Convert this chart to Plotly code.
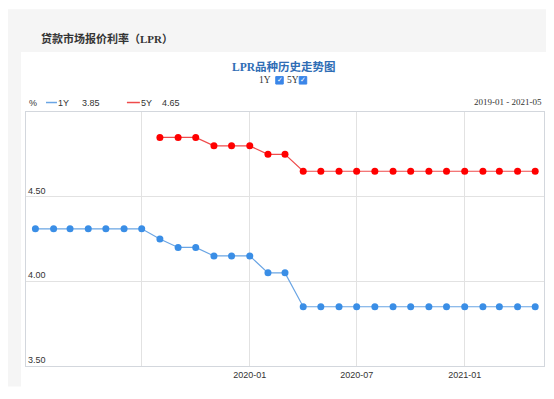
import plotly.graph_objects as go

# ---- data ----
months_1y = ["2019-01", "2019-02", "2019-03", "2019-04", "2019-05", "2019-06", "2019-07",
             "2019-08", "2019-09", "2019-10", "2019-11", "2019-12", "2020-01", "2020-02",
             "2020-03", "2020-04", "2020-05", "2020-06", "2020-07", "2020-08", "2020-09",
             "2020-10", "2020-11", "2020-12", "2021-01", "2021-02", "2021-03", "2021-04",
             "2021-05"]
rate_1y = [4.31, 4.31, 4.31, 4.31, 4.31, 4.31, 4.31,
           4.25, 4.20, 4.20, 4.15, 4.15, 4.15, 4.05,
           4.05, 3.85, 3.85, 3.85, 3.85, 3.85, 3.85,
           3.85, 3.85, 3.85, 3.85, 3.85, 3.85, 3.85,
           3.85]
months_5y = months_1y[7:]
rate_5y = [4.85, 4.85, 4.85, 4.80, 4.80, 4.80, 4.75,
           4.75, 4.65, 4.65, 4.65, 4.65, 4.65, 4.65,
           4.65, 4.65, 4.65, 4.65, 4.65, 4.65, 4.65,
           4.65]
x_tick_vals = ["2019-07-01", "2020-01-01", "2020-07-01", "2021-01-01"]
x_tick_text = ["", "2020-01", "2020-07", "2021-01"]
y_tick_vals = [3.5, 4.0, 4.5]

# page body has an 8px margin; work in window pixels and convert
OFF = 8
W, H = 554 - OFF, 399 - OFF
L, R, T, B = 26, 544.5, 112, 366.5   # plot area in window pixels


def px(x):
    return (x - L) / (R - L)


def py(y):
    return (B - y) / (B - T)


fig = go.Figure()
fig.add_trace(go.Scatter(
    x=[m + "-01" for m in months_1y], y=rate_1y, mode="lines+markers", name="1Y",
    line=dict(color="#6aa5e4", width=1.2),
    marker=dict(color="#3a8ee6", size=7),
))
fig.add_trace(go.Scatter(
    x=[m + "-01" for m in months_5y], y=rate_5y, mode="lines+markers", name="5Y",
    line=dict(color="#ef4b4b", width=1.2),
    marker=dict(color="#ff0000", size=7),
))

shapes = [
    dict(type="rect", xref="paper", yref="paper", x0=px(8), x1=px(560), y0=py(9), y1=py(387),
         fillcolor="#f5f5f5", line=dict(width=0), layer="below"),
    dict(type="rect", xref="paper", yref="paper", x0=px(21), x1=px(548.5), y0=py(52), y1=py(405),
         fillcolor="#ffffff", line=dict(width=0), layer="below"),
    # legend line samples
    dict(type="line", xref="paper", yref="paper", x0=px(46), x1=px(57), y0=py(102.5), y1=py(102.5),
         line=dict(color="#6aa5e4", width=1.5)),
    dict(type="line", xref="paper", yref="paper", x0=px(127), x1=px(140), y0=py(102.5), y1=py(102.5),
         line=dict(color="#ef4b4b", width=1.5)),
    # checkboxes
    dict(type="rect", xref="paper", yref="paper", x0=px(276), x1=px(283.5), y0=py(76.5), y1=py(84),
         fillcolor="#3b86e8", line=dict(color="#3b86e8", width=1)),
    dict(type="rect", xref="paper", yref="paper", x0=px(299.5), x1=px(307), y0=py(76.5), y1=py(84),
         fillcolor="#3b86e8", line=dict(color="#3b86e8", width=1)),
]

sans = "Liberation Sans, Arial, sans-serif"
serif = "Liberation Serif, Noto Sans CJK SC, serif"
ann = [
    dict(text="<b>贷款市场报价利率（LPR）</b>", x=px(39), y=py(38), xanchor="left", yanchor="middle",
         font=dict(family="Liberation Serif, Noto Sans CJK SC", size=11, color="#333333")),
    dict(text="<b>LPR品种历史走势图</b>", x=px(284), y=py(66), xanchor="center", yanchor="middle",
         font=dict(family=serif, size=11.5, color="#2f6db5")),
    dict(text="1Y", x=px(273.5), y=py(80), xanchor="right", yanchor="middle",
         font=dict(family=serif, size=9.5, color="#333333")),
    dict(text="5Y", x=px(285), y=py(80), xanchor="left", yanchor="middle",
         font=dict(family=serif, size=9.5, color="#333333")),
    dict(text="✓", x=px(279.75), y=py(80), xanchor="center", yanchor="middle",
         font=dict(family="DejaVu Sans", size=7, color="#ffffff")),
    dict(text="✓", x=px(303.25), y=py(80), xanchor="center", yanchor="middle",
         font=dict(family="DejaVu Sans", size=7, color="#ffffff")),
    dict(text="%", x=px(27), y=py(102.5), xanchor="left", yanchor="middle",
         font=dict(family=sans, size=9, color="#333333")),
    dict(text="1Y", x=px(56), y=py(102.5), xanchor="left", yanchor="middle",
         font=dict(family=sans, size=9, color="#333333")),
    dict(text=f"{rate_1y[-1]:.2f}", x=px(80), y=py(102.5), xanchor="left", yanchor="middle",
         font=dict(family=sans, size=9, color="#333333")),
    dict(text="5Y", x=px(139), y=py(102.5), xanchor="left", yanchor="middle",
         font=dict(family=sans, size=9, color="#333333")),
    dict(text=f"{rate_5y[-1]:.2f}", x=px(160), y=py(102.5), xanchor="left", yanchor="middle",
         font=dict(family=sans, size=9, color="#333333")),
    dict(text=f"{months_1y[0]} - {months_1y[-1]}", x=px(545), y=py(102), xanchor="right",
         yanchor="middle", font=dict(family="Liberation Serif, serif", size=9, color="#333333")),
]
for a in ann:
    a.update(xref="paper", yref="paper", showarrow=False)

fig.update_layout(
    width=W, height=H, autosize=False,
    margin=dict(l=L - OFF, r=W - (R - OFF), t=T - OFF, b=H - (B - OFF), pad=0),
    paper_bgcolor="#ffffff", plot_bgcolor="#ffffff",
    showlegend=False,
    shapes=shapes, annotations=ann,
    xaxis=dict(type="date", range=["2018-12-16", "2021-05-16"],
               tickvals=x_tick_vals, ticktext=x_tick_text,
               showgrid=True, gridcolor="#e2e2e2", gridwidth=1,
               showline=True, linecolor="#d3d7dd", linewidth=1.2, mirror=True,
               ticks="", ticklen=0,
               tickfont=dict(family=sans, size=9, color="#333333"),
               zeroline=False),
    yaxis=dict(range=[3.5, 5.0], tickvals=y_tick_vals, tickformat=".2f",
               ticklabelposition="inside top",
               showgrid=True, gridcolor="#e2e2e2", gridwidth=1,
               showline=True, linecolor="#d3d7dd", linewidth=1.2, mirror=True,
               ticks="", tickfont=dict(family=sans, size=9, color="#333333"),
               zeroline=False),
)

fig.write_html("out.html")
